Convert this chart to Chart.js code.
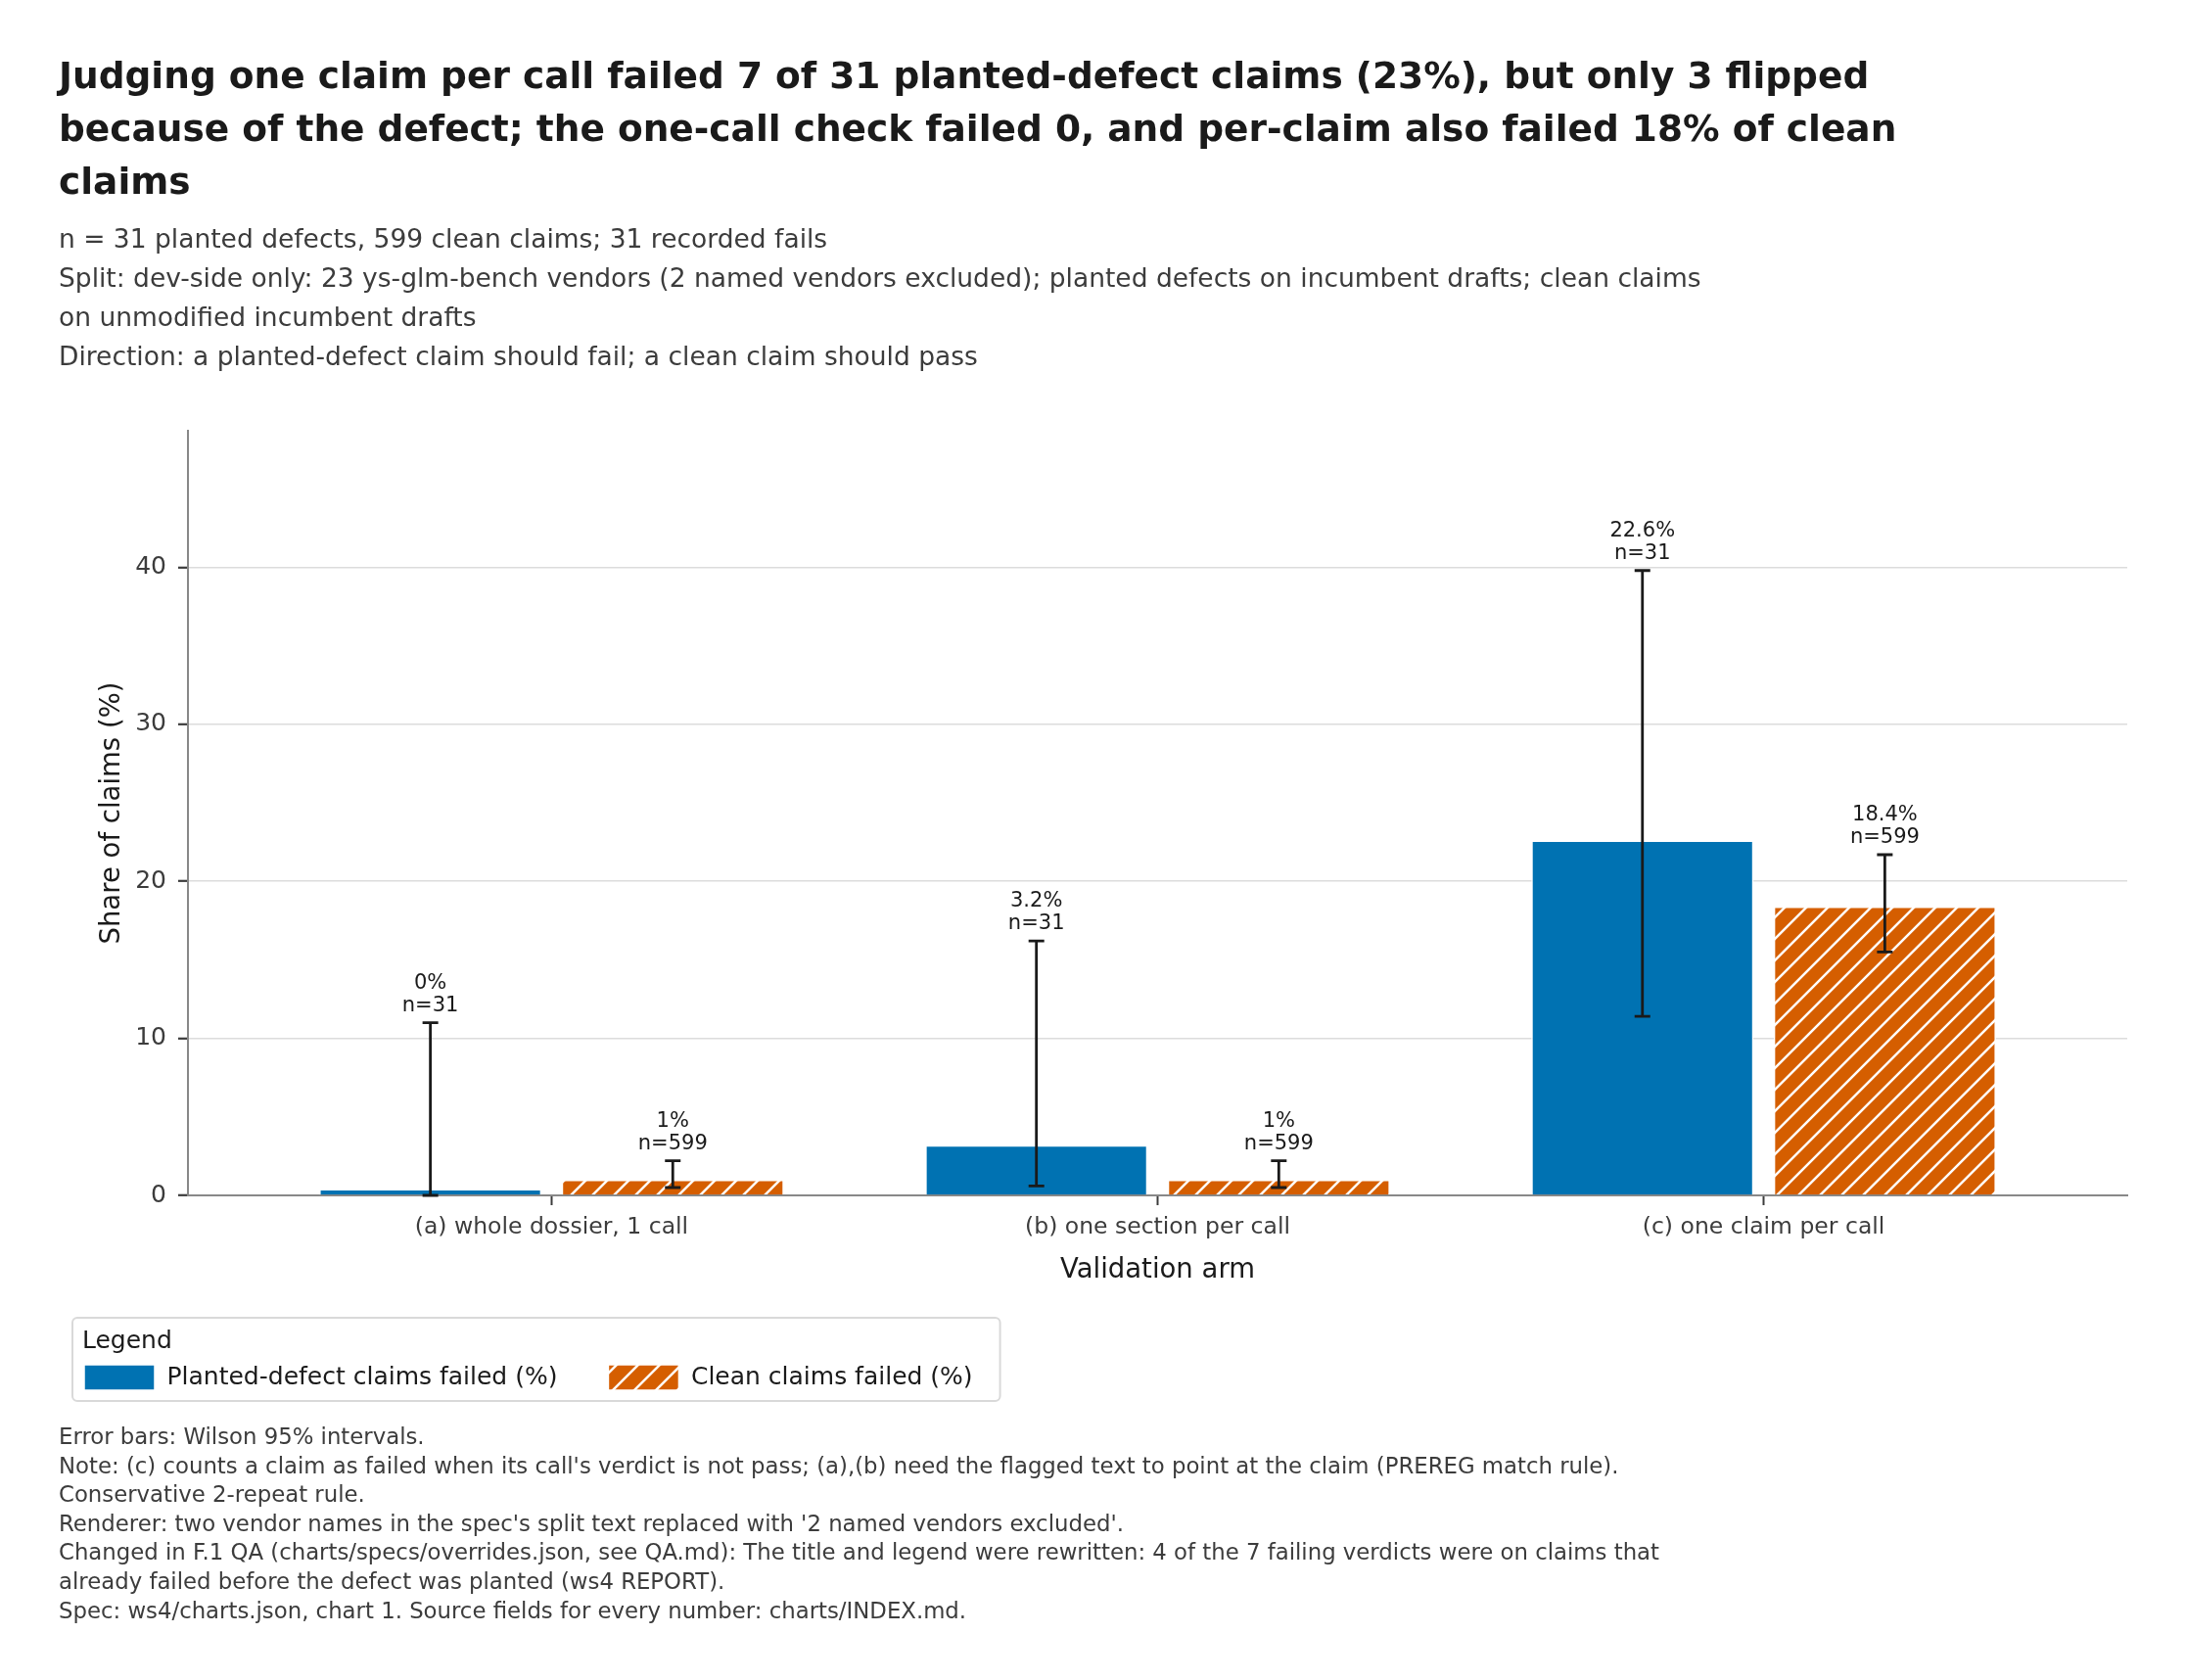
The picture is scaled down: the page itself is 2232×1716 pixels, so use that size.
<!DOCTYPE html>
<html>
<head>
<meta charset="utf-8">
<script src="https://cdn.jsdelivr.net/npm/chart.js@4.4.1/dist/chart.umd.min.js"></script>
<style>
  html, body { margin: 0; padding: 0; background: #ffffff; }
  body { width: 2232px; height: 1716px; position: relative; overflow: hidden; font-family: 'DejaVu Sans', sans-serif; }
  #chart { position: absolute; left: 0; top: 0; }
  .txt { position: absolute; left: 60px; white-space: nowrap; }
  #title { top: 50px; font-size: 37.5px; font-weight: bold; line-height: 54px; color: #1a1a1a; }
  #sub { top: 224px; font-size: 26.5px; line-height: 40px; color: #3c3c3c; }
  #notes { top: 1453px; font-size: 22.8px; line-height: 29.6px; color: #3c3c3c; }
</style>
</head>
<body>
<canvas id="chart" width="2232" height="1716"></canvas>
<div id="title" class="txt">Judging one claim per call failed 7 of 31 planted-defect claims (23%), but only 3 flipped<br>because of the defect; the one-call check failed 0, and per-claim also failed 18% of clean<br>claims</div>
<div id="sub" class="txt">n = 31 planted defects, 599 clean claims; 31 recorded fails<br>Split: dev-side only: 23 ys-glm-bench vendors (2 named vendors excluded); planted defects on incumbent drafts; clean claims<br>on unmodified incumbent drafts<br>Direction: a planted-defect claim should fail; a clean claim should pass</div>
<div id="notes" class="txt">Error bars: Wilson 95% intervals.<br>Note: (c) counts a claim as failed when its call's verdict is not pass; (a),(b) need the flagged text to point at the claim (PREREG match rule).<br>Conservative 2-repeat rule.<br>Renderer: two vendor names in the spec's split text replaced with '2 named vendors excluded'.<br>Changed in F.1 QA (charts/specs/overrides.json, see QA.md): The title and legend were rewritten: 4 of the 7 failing verdicts were on claims that<br>already failed before the defect was planted (ws4 REPORT).<br>Spec: ws4/charts.json, chart 1. Source fields for every number: charts/INDEX.md.</div>
<script>
// data
const categories = ['(a) whole dossier, 1 call', '(b) one section per call', '(c) one claim per call'];
const plantedFailed = [0, 3.2, 22.6];
const plantedLow = [0, 0.6, 11.4];
const plantedHigh = [11.0, 16.2, 39.8];
const plantedN = [31, 31, 31];
const cleanFailed = [1.0, 1.0, 18.4];
const cleanLow = [0.5, 0.5, 15.5];
const cleanHigh = [2.2, 2.2, 21.7];
const cleanN = [599, 599, 599];
const yTicks = [0, 10, 20, 30, 40];

Chart.defaults.font.family = "'DejaVu Sans', sans-serif";
Chart.defaults.color = '#3c3c3c';

function fmt(v) {
    return (Math.round(v * 10) / 10).toString() + '%';
}

// white "/" hatch on a solid colour
function makeHatch(color) {
    const size = 22;
    const c = document.createElement('canvas');
    c.width = size;
    c.height = size;
    const g = c.getContext('2d');
    g.fillStyle = color;
    g.fillRect(0, 0, size, size);
    g.strokeStyle = '#ffffff';
    g.lineWidth = 2.5;
    g.beginPath();
    g.moveTo(0, size); g.lineTo(size, 0);
    g.moveTo(-2, 2); g.lineTo(2, -2);
    g.moveTo(size - 2, size + 2); g.lineTo(size + 2, size - 2);
    g.stroke();
    return g.createPattern(c, 'repeat');
}

const errorBars = {
    id: 'errorBars',
    afterDatasetsDraw(chart) {
        const ctx = chart.ctx;
        const yScale = chart.scales.y;
        const sets = [
            [plantedLow, plantedHigh, plantedFailed, plantedN],
            [cleanLow, cleanHigh, cleanFailed, cleanN]
        ];
        ctx.save();
        sets.forEach((s, d) => {
            chart.getDatasetMeta(d).data.forEach((bar, i) => {
                const x = bar.x;
                const top = yScale.getPixelForValue(s[1][i]);
                const bot = yScale.getPixelForValue(s[0][i]);
                ctx.strokeStyle = '#1a1a1a';
                ctx.lineWidth = 2.8;
                ctx.beginPath();
                ctx.moveTo(x, top); ctx.lineTo(x, bot);
                ctx.moveTo(x - 8, top); ctx.lineTo(x + 8, top);
                ctx.moveTo(x - 8, bot); ctx.lineTo(x + 8, bot);
                ctx.stroke();
                ctx.fillStyle = '#1a1a1a';
                ctx.font = "21px 'DejaVu Sans'";
                ctx.textAlign = 'center';
                ctx.textBaseline = 'alphabetic';
                ctx.fillText(fmt(s[2][i]), x, top - 35);
                ctx.fillText('n=' + s[3][i], x, top - 12);
            });
        });
        ctx.restore();
    }
};

// frame + "Legend" heading around the library legend
const legendFrame = {
    id: 'legendFrame',
    afterDraw(chart) {
        const lg = chart.legend;
        if (!lg || !lg.legendHitBoxes || !lg.legendHitBoxes.length) return;
        const boxes = lg.legendHitBoxes;
        const first = boxes[0];
        const last = boxes[boxes.length - 1];
        const left = first.left - 12;
        const right = last.left + last.width + 28;
        const top = lg.top + 4;
        const bottom = first.top + first.height + 11;
        const ctx = chart.ctx;
        ctx.save();
        ctx.strokeStyle = '#d9d9d9';
        ctx.lineWidth = 2;
        ctx.beginPath();
        ctx.roundRect(left, top, right - left, bottom - top, 5);
        ctx.stroke();
        ctx.fillStyle = '#1a1a1a';
        ctx.font = "25px 'DejaVu Sans'";
        ctx.textAlign = 'left';
        ctx.textBaseline = 'alphabetic';
        ctx.fillText('Legend', left + 10, lg.top + 34.7);
        ctx.restore();
    }
};

new Chart(document.getElementById('chart'), {
    type: 'bar',
    data: {
        datasets: [{
            label: 'Planted-defect claims failed (%)',
            data: plantedFailed.map((v, i) => ({ x: i, y: v })),
            backgroundColor: '#0072B2',
            borderColor: '#ffffff',
            borderWidth: 1.5,
            minBarLength: 6.5
        }, {
            label: 'Clean claims failed (%)',
            data: cleanFailed.map((v, i) => ({ x: i, y: v })),
            backgroundColor: makeHatch('#D55E00'),
            borderColor: '#ffffff',
            borderWidth: 1.5
        }]
    },
    options: {
        responsive: false,
        animation: false,
        layout: { padding: { left: 34, right: 59, top: 440, bottom: 286 } },
        datasets: { bar: { categoryPercentage: 0.8, barPercentage: 0.917 } },
        plugins: {
            tooltip: { enabled: false },
            legend: {
                position: 'bottom',
                align: 'start',
                labels: { boxWidth: 72, boxHeight: 26, padding: 52, color: '#1a1a1a', font: { size: 25 } }
            }
        },
        scales: {
            x: {
                type: 'linear',
                min: -0.6,
                max: 2.6,
                offset: false,
                afterBuildTicks: sc => { sc.ticks = categories.map((c, i) => ({ value: i })); },
                afterFit: sc => { sc.height = 121; },
                ticks: {
                    callback: v => categories[Math.round(v)] || '',
                    font: { size: 23.5 },
                    color: '#3c3c3c',
                    padding: 9,
                    maxRotation: 0,
                    autoSkip: false
                },
                grid: { offset: false, drawOnChartArea: false, tickLength: 10, tickColor: '#3c3c3c', tickWidth: 2 },
                border: { color: '#888888', width: 2 },
                title: { display: true, text: 'Validation arm', font: { size: 27.5 }, color: '#1a1a1a', padding: { top: 0, bottom: 27.5 } }
            },
            y: {
                min: 0,
                max: 48.7,
                afterBuildTicks: sc => { sc.ticks = yTicks.map(v => ({ value: v })); },
                afterFit: sc => { sc.width = 158; },
                ticks: { font: { size: 25 }, color: '#3c3c3c', padding: 12 },
                grid: { color: '#dcdcdc', lineWidth: 1.6, tickLength: 10, tickColor: '#3c3c3c', tickWidth: 2.2 },
                border: { color: '#888888', width: 2 },
                title: { display: true, text: 'Share of claims (%)', font: { size: 27.5 }, color: '#1a1a1a', padding: { top: 64.5, bottom: 0 } }
            }
        }
    },
    plugins: [errorBars, legendFrame]
});
</script>
</body>
</html>
